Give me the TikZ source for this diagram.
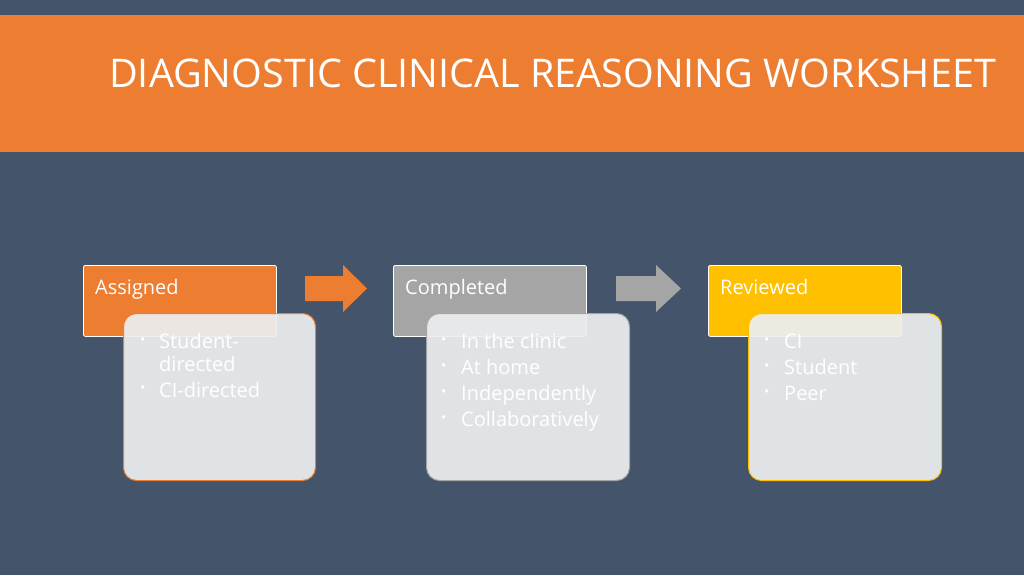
\documentclass[tikz,border=0pt]{standalone}
\usepackage{fontspec}
\setmainfont{Open Sans}
\definecolor{bg}{RGB}{68,84,106}
\definecolor{org}{RGB}{237,125,49}
\definecolor{gry}{RGB}{165,165,165}
\definecolor{gld}{RGB}{255,192,0}
\definecolor{pane}{RGB}{236,238,240}
\begin{document}
\begin{tikzpicture}[x=1pt,y=-1pt,
  hdr/.style={draw=white,line width=0.8pt,rounded corners=2pt,anchor=north west,minimum width=193pt,minimum height=71pt,inner sep=0pt},
  body/.style={line width=1pt,rounded corners=13pt,fill=pane,fill opacity=0.93,anchor=north west,minimum height=167pt,inner sep=0pt},
  htxt/.style={text=white,font=\fontsize{20}{24}\selectfont,anchor=base west,inner sep=0pt},
  btxt/.style={text=white,font=\fontsize{20}{24}\selectfont,anchor=base west,inner sep=0pt},
  bul/.style={text=white,font=\fontsize{14}{16}\selectfont,anchor=base west,inner sep=0pt}]
\fill[bg] (0,0) rectangle (1024,575);
\useasboundingbox (0,0) rectangle (1024,575);
\fill[org] (0,15) rectangle (1024,152);
\node[text=white,font=\fontsize{39.5}{44}\selectfont,anchor=base west,inner sep=0pt] (title) at (109,88) {DIAGNOSTIC CLINICAL REASONING WORKSHEET};
\fill[org] (305,276) -- (343,276) -- (343,265) -- (367,288.5) -- (343,312) -- (343,301) -- (305,301) -- cycle;
\fill[gry] (616,276) -- (656,276) -- (656,265) -- (681,288.5) -- (656,312) -- (656,301) -- (616,301) -- cycle;
\node[hdr,fill=org] (h1) at (83,265) {};
\node[hdr,fill=gry] (h2) at (393,265) {};
\node[hdr,fill=gld] (h3) at (708,265) {};
\node[htxt] (t1) at (95,294) {Assigned};
\node[htxt] (t2) at (405,294) {Completed};
\node[htxt] (t3) at (720,294) {Reviewed};
\node[body,draw=org,minimum width=192pt] (b1) at (123,313) {};
\node[body,draw=gry,minimum width=203pt] (b2) at (426,313) {};
\node[body,draw=gld,minimum width=193pt] (b3) at (748,313) {};
% box 1
\node[bul] (p11) at (140,344) {\textbullet};
\node[btxt] (a11) at (159,348) {Student-};
\node[btxt] (a12) at (159,371) {directed};
\node[bul] (p12) at (140,392) {\textbullet};
\node[btxt] (a13) at (159,397) {CI-directed};
% box 2
\node[bul] (p21) at (441,344) {\textbullet};
\node[btxt] (a21) at (461,348) {In the clinic};
\node[bul] (p22) at (441,370) {\textbullet};
\node[btxt] (a22) at (461,374) {At home};
\node[bul] (p23) at (441,396) {\textbullet};
\node[btxt] (a23) at (461,400) {Independently};
\node[bul] (p24) at (441,422) {\textbullet};
\node[btxt] (a24) at (461,426) {Collaboratively};
% box 3
\node[bul] (p31) at (764,344) {\textbullet};
\node[btxt] (a31) at (784,348) {CI};
\node[bul] (p32) at (764,370) {\textbullet};
\node[btxt] (a32) at (784,374) {Student};
\node[bul] (p33) at (764,396) {\textbullet};
\node[btxt] (a33) at (784,400) {Peer};
\end{tikzpicture}
\end{document}
